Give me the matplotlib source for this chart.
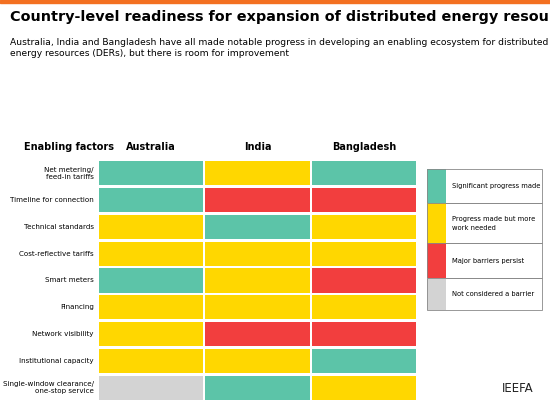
import matplotlib
matplotlib.use("Agg")
import matplotlib.pyplot as plt
from matplotlib.patches import Rectangle

factors = ["Net metering/\nfeed-in tariffs", "Timeline for connection", "Technical standards",
           "Cost-reflective tariffs", "Smart meters", "Financing", "Network visibility",
           "Institutional capacity", "Single-window clearance/\none-stop service"]
countries = ["Australia", "India", "Bangladesh"]
status = [
    ["G", "Y", "G"],
    ["G", "R", "R"],
    ["Y", "G", "Y"],
    ["Y", "Y", "Y"],
    ["G", "Y", "R"],
    ["Y", "Y", "Y"],
    ["Y", "R", "R"],
    ["Y", "Y", "G"],
    ["N", "G", "Y"],
]
colors = {"G": "#5CC4A8", "Y": "#FFD700", "R": "#F23E3E", "N": "#D3D3D3"}
legend_labels = [("G", "Significant progress made"), ("Y", "Progress made but more\nwork needed"),
                 ("R", "Major barriers persist"), ("N", "Not considered a barrier")]

W, H = 550, 418
fig = plt.figure(figsize=(W/100, H/100), dpi=100)
fig.patch.set_facecolor("white")
fig.add_artist(Rectangle((0, 1-3/H), 1, 3/H, color="#F37021", transform=fig.transFigure))
fig.text(10/W, 1-17/H, "Country-level readiness for expansion of distributed energy resources",
         fontsize=10.4, fontweight="bold", va="center", ha="left")
fig.text(10/W, 1-48/H, "Australia, India and Bangladesh have all made notable progress in developing an enabling ecosystem for distributed\nenergy resources (DERs), but there is room for improvement",
         fontsize=6.6, va="center", ha="left", linespacing=1.35)

ax = fig.add_axes([98/W, 17/H, 319/W, 241/H])
n = len(factors)
for i, row in enumerate(status):
    for j, s in enumerate(row):
        ax.add_patch(Rectangle((j + 0.008, i + 0.05), 0.984, 0.9, color=colors[s], lw=0))
ax.set_xlim(0, 3)
ax.set_ylim(n, 0)
ax.axis("off")
for j, c in enumerate(countries):
    ax.text(j + 0.5, -0.5, c, ha="center", va="center", fontsize=7, fontweight="bold")
ax.text(-0.27, -0.5, "Enabling factors", ha="center", va="center", fontsize=7, fontweight="bold")
for i, f in enumerate(factors):
    ax.text(-0.04, i + 0.5, f, ha="right", va="center", fontsize=5.1, linespacing=1.35)

# legend
lax = fig.add_axes([427/W, (H-310)/H, 115/W, 141/H])
bounds = [0, 34, 74, 109, 141]
for k, (key, lab) in enumerate(legend_labels):
    y0, y1 = bounds[k], bounds[k+1]
    lax.add_patch(Rectangle((0, y0), 19, y1 - y0, facecolor=colors[key], edgecolor="none", clip_on=False))
    lax.add_patch(Rectangle((0, y0), 115, y1 - y0, facecolor="none", edgecolor="#888888", lw=0.6, clip_on=False))
    lax.text(25, (y0 + y1) / 2, lab, va="center", ha="left", fontsize=4.9, linespacing=1.6)
lax.set_xlim(0, 115)
lax.set_ylim(141, 0)
lax.axis("off")

fig.text(502/W, 1-388/H, "IEEFA", fontsize=8.5, va="center", ha="left", color="#222222")
fig.savefig("out.png", dpi=100)
